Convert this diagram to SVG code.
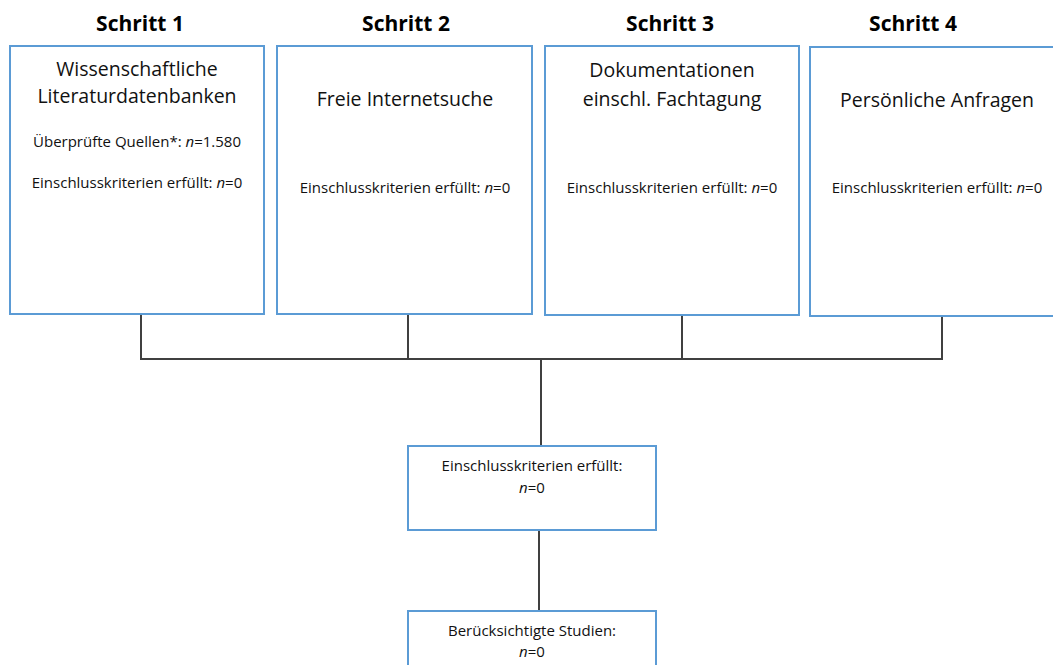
<svg xmlns="http://www.w3.org/2000/svg" width="1053" height="665" viewBox="0 0 1053 665">
<style>
.box{fill:#fff;stroke:#5B9BD5;stroke-width:2}
.step{font-family:"Open Sans","Liberation Sans",sans-serif;font-weight:bold;font-size:21px;fill:#000;text-anchor:middle}
.title{font-family:"Open Sans","Liberation Sans",sans-serif;font-size:19.5px;fill:#111;text-anchor:middle}
.small{font-family:"Open Sans","Liberation Sans",sans-serif;font-size:15px;fill:#111;text-anchor:middle}
.conn{fill:none;stroke:#404040;stroke-width:2}
</style>
<rect width="1053" height="665" fill="#fff"/>
<g id="step-labels">
<text class="step" x="140" y="31">Schritt 1</text>
<text class="step" x="406" y="31">Schritt 2</text>
<text class="step" x="670" y="31">Schritt 3</text>
<text class="step" x="913" y="31">Schritt 4</text>
</g>
<g id="connectors">
<polyline class="conn" points="141,315 141,359 942,359 942,316"/>
<line class="conn" x1="408" y1="315" x2="408" y2="359"/>
<line class="conn" x1="682" y1="316" x2="682" y2="359"/>
<line class="conn" x1="541" y1="359" x2="541" y2="446"/>
<line class="conn" x1="539" y1="530" x2="539" y2="611"/>
</g>
<g id="node1">
<rect class="box" x="10" y="46" width="254" height="268"/>
<text class="title" x="137" y="76">Wissenschaftliche</text>
<text class="title" x="137" y="103">Literaturdatenbanken</text>
<text class="small" x="137" y="147">Überprüfte Quellen*: <tspan font-style="italic">n</tspan>=1.580</text>
<text class="small" x="137" y="188">Einschlusskriterien erfüllt: <tspan font-style="italic">n</tspan>=0</text>
</g>
<g id="node2">
<rect class="box" x="277" y="46" width="255" height="268"/>
<text class="title" x="405" y="106">Freie Internetsuche</text>
<text class="small" x="405" y="193">Einschlusskriterien erfüllt: <tspan font-style="italic">n</tspan>=0</text>
</g>
<g id="node3">
<rect class="box" x="545" y="46" width="254" height="269"/>
<text class="title" x="672" y="77">Dokumentationen</text>
<text class="title" x="672" y="106">einschl. Fachtagung</text>
<text class="small" x="672" y="193">Einschlusskriterien erfüllt: <tspan font-style="italic">n</tspan>=0</text>
</g>
<g id="node4">
<rect class="box" x="810" y="47" width="256" height="269"/>
<text class="title" x="937" y="107">Persönliche Anfragen</text>
<text class="small" x="937" y="193">Einschlusskriterien erfüllt: <tspan font-style="italic">n</tspan>=0</text>
</g>
<g id="node5">
<rect class="box" x="408" y="446" width="248" height="84"/>
<text class="small" x="532" y="471">Einschlusskriterien erfüllt:</text>
<text class="small" x="532" y="493"><tspan font-style="italic">n</tspan>=0</text>
</g>
<g id="node6">
<rect class="box" x="408" y="611" width="248" height="70"/>
<text class="small" x="532" y="636">Berücksichtigte Studien:</text>
<text class="small" x="532" y="657"><tspan font-style="italic">n</tspan>=0</text>
</g>
</svg>
